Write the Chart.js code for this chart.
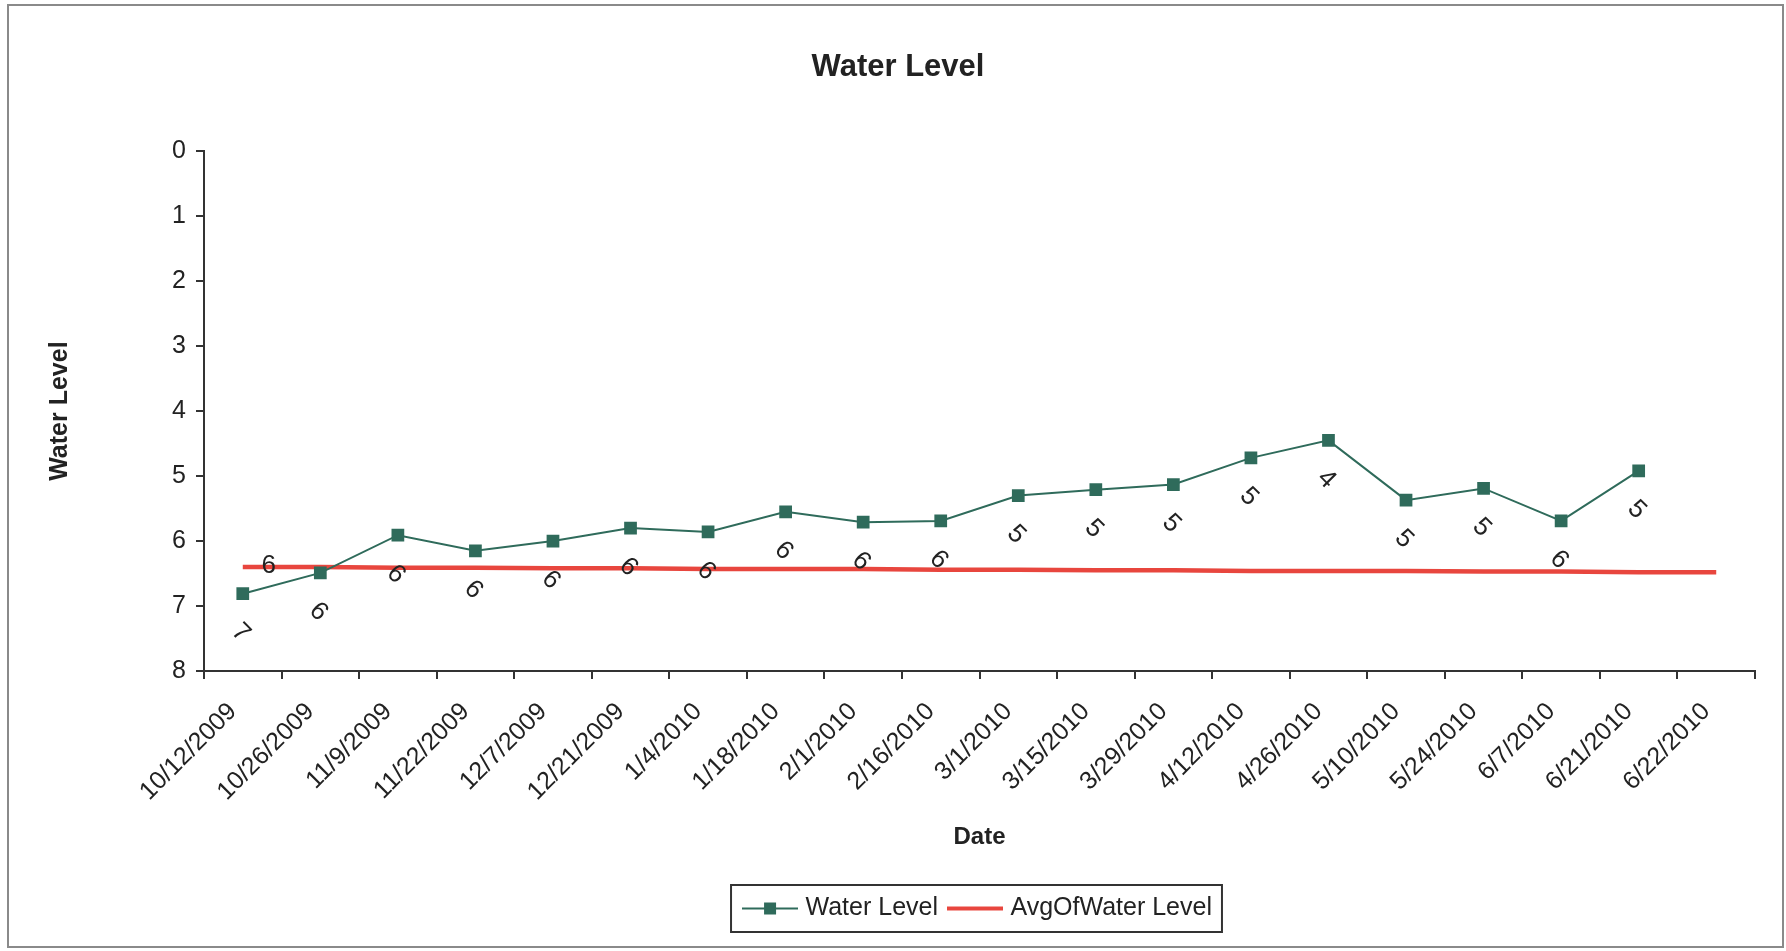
<!DOCTYPE html>
<html>
<head>
<meta charset="utf-8">
<title>Water Level</title>
<script src="https://cdn.jsdelivr.net/npm/chart.js@4.4.1/dist/chart.umd.min.js"></script>
<style>
  html, body { margin: 0; padding: 0; background: #fff; }
  #wrap { width: 1786px; height: 951px; }
</style>
</head>
<body>
<div id="wrap"><canvas id="lineChart"></canvas></div>
<script>
// sampling dates (category axis)
var dates = ["10/12/2009", "10/26/2009", "11/9/2009", "11/22/2009", "12/7/2009",
             "12/21/2009", "1/4/2010", "1/18/2010", "2/1/2010", "2/16/2010",
             "3/1/2010", "3/15/2010", "3/29/2010", "4/12/2010", "4/26/2010",
             "5/10/2010", "5/24/2010", "6/7/2010", "6/21/2010", "6/22/2010"];
// measured water level, nothing recorded for the last date
var water_level = [6.81, 6.49, 5.91, 6.15, 6.00, 5.80, 5.86, 5.55, 5.71, 5.69,
                   5.30, 5.21, 5.13, 4.72, 4.45, 5.37, 5.19, 5.69, 4.92, null];
var avg_level = [6.40, 6.40, 6.41, 6.41, 6.42, 6.42, 6.43, 6.43, 6.43, 6.44,
                 6.44, 6.45, 6.45, 6.46, 6.46, 6.46, 6.47, 6.47, 6.48, 6.48];
var series_names = ["Water Level", "AvgOfWater Level"];

var FONT = '"Liberation Sans", Arial, sans-serif';
var GREEN = '#2f6b5b';
var RED = '#e8463e';
var INK = '#222';

// little line+marker pictures for the legend
function legendIcon(color, width, marker) {
  var c = document.createElement('canvas');
  c.width = 56; c.height = 20;
  var g = c.getContext('2d');
  g.strokeStyle = color;
  g.lineWidth = width;
  g.beginPath(); g.moveTo(0, 10); g.lineTo(56, 10); g.stroke();
  if (marker) { g.fillStyle = color; g.fillRect(22, 4, 12, 12); }
  return c;
}
var icons = [legendIcon(GREEN, 2, true), legendIcon(RED, 4, false)];

// title sits on the middle of the frame, legend under the middle of the plot
var placeBlocks = {
  id: 'placeBlocks',
  afterLayout: function(chart) {
    var t = chart.titleBlock;
    if (t) {
      var dt = 898 - (t.left + t.right) / 2;
      t.left += dt; t.right += dt;
    }
    var lg = chart.legend;
    var ca = chart.chartArea;
    var dl = (ca.left + ca.right) / 2 - (lg.left + lg.right) / 2;
    lg.left += dl; lg.right += dl;
  }
};

// outer frame + box around the legend
var framePlugin = {
  id: 'framePlugin',
  beforeDraw: function(chart) {
    var ctx = chart.ctx;
    ctx.save();
    ctx.fillStyle = '#fff';
    ctx.fillRect(0, 0, chart.width, chart.height);
    ctx.strokeStyle = '#8a8a8a';
    ctx.lineWidth = 2;
    ctx.strokeRect(8, 5, 1775, 942);
    ctx.restore();
  },
  afterDraw: function(chart) {
    var hb = chart.legend.legendHitBoxes;
    if (!hb || !hb.length) return;
    var last = hb[hb.length - 1];
    var left = hb[0].left - 16, right = last.left + last.width + 10;
    var top = hb[0].top - 11, bottom = hb[0].top + hb[0].height + 11;
    var ctx = chart.ctx;
    ctx.save();
    ctx.strokeStyle = '#333';
    ctx.lineWidth = 2;
    ctx.strokeRect(left, top, right - left, bottom - top);
    ctx.restore();
  }
};

// rotated value labels under each point, and one label on the average line
var valueLabels = {
  id: 'valueLabels',
  afterDatasetsDraw: function(chart) {
    var ctx = chart.ctx;
    ctx.save();
    ctx.font = '26px ' + FONT;
    ctx.fillStyle = INK;
    ctx.textAlign = 'center';
    ctx.textBaseline = 'middle';
    chart.getDatasetMeta(0).data.forEach(function(pt, i) {
      var v = water_level[i];
      if (v === null) return;
      ctx.save();
      ctx.translate(pt.x - 2, pt.y + 39);
      ctx.rotate(Math.PI / 4);
      ctx.fillText(String(Math.round(v)), 0, 0);
      ctx.restore();
    });
    var a = chart.getDatasetMeta(1).data[0];
    ctx.fillText(String(Math.round(avg_level[0])), a.x + 26, a.y - 1);
    ctx.restore();
  }
};

var ctxL = document.getElementById('lineChart').getContext('2d');
var myLineChart = new Chart(ctxL, {
  type: 'line',
  data: {
    labels: dates,
    datasets: [{
      label: series_names[0],
      data: water_level,
      borderColor: GREEN,
      backgroundColor: GREEN,
      borderWidth: 2,
      pointStyle: 'rect',
      pointRadius: 9,
      pointBackgroundColor: GREEN,
      pointBorderWidth: 0,
      tension: 0,
      spanGaps: false
    }, {
      label: series_names[1],
      data: avg_level,
      borderColor: RED,
      backgroundColor: RED,
      borderWidth: 4.5,
      pointRadius: 0,
      tension: 0
    }]
  },
  options: {
    responsive: true,
    maintainAspectRatio: false,
    animation: false,
    layout: { padding: { left: 8, right: 31, top: 5, bottom: 20 } },
    plugins: {
      title: {
        display: true,
        text: 'Water Level',
        color: INK,
        font: { family: FONT, size: 31, weight: 'bold' },
        padding: { top: 44, bottom: 65 }
      },
      legend: {
        position: 'bottom',
        labels: {
          usePointStyle: true,
          pointStyleWidth: 46,
          color: INK,
          font: { family: FONT, size: 25 },
          padding: 14,
          generateLabels: function(chart) {
            return chart.data.datasets.map(function(ds, i) {
              return { text: ds.label, pointStyle: icons[i], fontColor: INK,
                       datasetIndex: i, hidden: false, lineWidth: 0,
                       strokeStyle: 'rgba(0,0,0,0)', fillStyle: 'rgba(0,0,0,0)' };
            });
          }
        }
      },
      tooltip: { enabled: false }
    },
    scales: {
      x: {
        type: 'category',
        offset: true,
        grid: { offset: true, drawOnChartArea: false, drawTicks: true, tickLength: 8, color: '#333', lineWidth: 2 },
        border: { color: '#333', width: 2 },
        ticks: { color: INK, font: { family: FONT, size: 25 }, minRotation: 45, maxRotation: 45,
                 padding: 18, labelOffset: -10, autoSkip: false },
        title: { display: true, text: 'Date', color: INK, font: { family: FONT, size: 24, weight: 'bold' }, padding: { top: 4, bottom: 30 } },
        afterFit: function(scale) { scale.height = 211; }
      },
      y: {
        reverse: true,
        min: 0,
        max: 8,
        grid: { drawOnChartArea: false, drawTicks: true, tickLength: 8, color: '#333', lineWidth: 2 },
        border: { color: '#333', width: 2 },
        ticks: { stepSize: 1, color: INK, font: { family: FONT, size: 25 }, padding: 10 },
        title: { display: true, text: 'Water Level', color: INK, font: { family: FONT, size: 25, weight: 'bold' }, padding: { top: 37, bottom: 4 } },
        afterFit: function(scale) { scale.width = 196; }
      }
    }
  },
  plugins: [placeBlocks, framePlugin, valueLabels]
});
</script>
</body>
</html>
